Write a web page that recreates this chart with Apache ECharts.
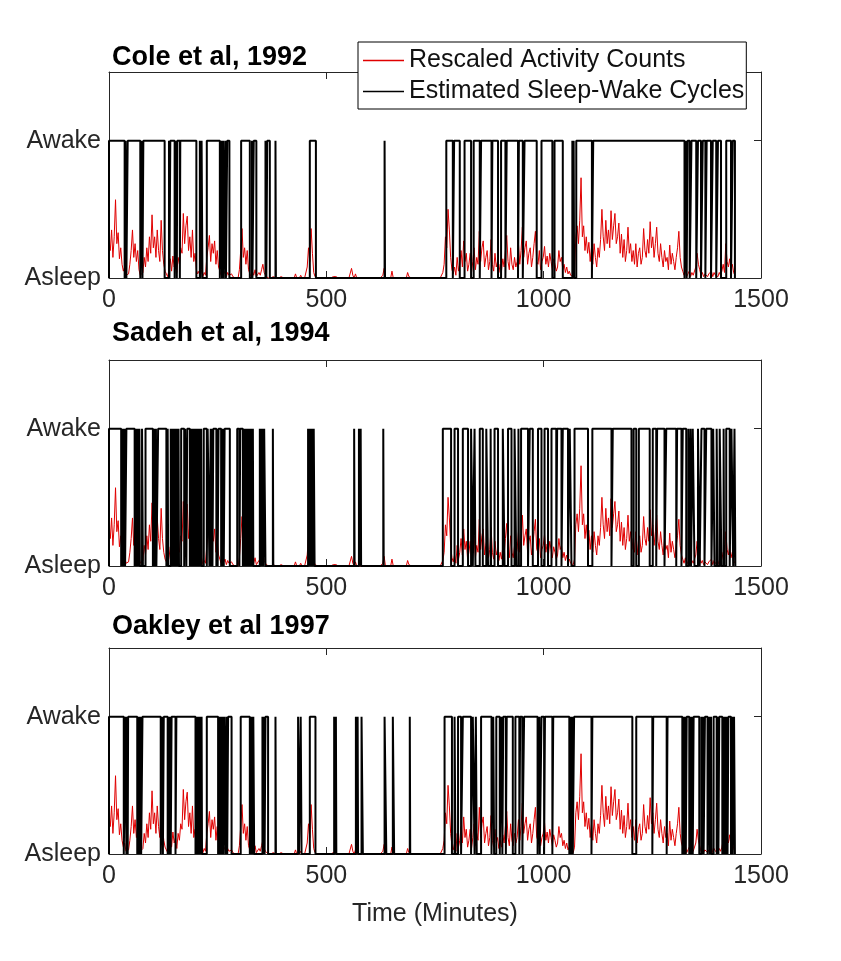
<!DOCTYPE html>
<html>
<head>
<meta charset="utf-8">
<script src="https://cdn.jsdelivr.net/npm/echarts@6/dist/echarts.min.js"></script>
<style>
  html, body { margin: 0; padding: 0; background: #fff; }
  #chart { width: 841px; height: 961px; }
</style>
</head>
<body>
<div id="chart"></div>
<script>
// ---------------- data ----------------
const xTicks = [0, 500, 1000, 1500];
const yTickLabels = ['Asleep', 'Awake'];
const panelTitles = ['Cole et al, 1992', 'Sadeh et al, 1994', 'Oakley et al 1997'];
const seriesNames = ['Rescaled Activity Counts', 'Estimated Sleep-Wake Cycles'];
const xAxisName = 'Time (Minutes)';

// rescaled activity counts, one sample every 3 minutes (same recording in all panels)
const activityMinuteStep = 3;
const activity = [
  0.28,0.20,0.35,0.15,0.30,0.57,0.25,0.33,0.14,0.22,   // 0-27
  0.10,0.05,0.08,0.02,0.01,0.03,0.10,0.20,0.35,0.15,   // 30-57
  0.25,0.12,0.20,0.06,0.02,0.01,0.04,0.15,0.08,0.22,   // 60-87
  0.12,0.30,0.18,0.46,0.22,0.30,0.15,0.35,0.20,0.12,   // 90-117
  0.42,0.20,0.10,0.05,0.03,0.01,0.06,0.14,0.05,0.16,   // 120-147
  0.08,0.12,0.04,0.15,0.10,0.22,0.18,0.47,0.25,0.38,   // 150-177
  0.45,0.20,0.30,0.15,0.35,0.12,0.18,0.06,0.03,0.05,   // 180-207
  0.02,0.06,0.01,0.04,0.02,0.15,0.22,0.31,0.12,0.25,   // 210-237
  0.18,0.27,0.10,0.20,0.08,0.05,0.02,0.06,0.03,0.05,   // 240-267
  0.01,0.04,0.02,0.01,0.03,0.01,0.02,0.00,0.01,0.00,   // 270-297
  0.06,0.20,0.36,0.15,0.22,0.10,0.20,0.06,0.03,0.01,   // 300-327
  0.05,0.02,0.06,0.01,0.02,0.04,0.02,0.06,0.10,0.04,   // 330-357
  0.02,0.01,0.00,0.01,0.00,0.00,0.01,0.00,0.00,0.00,   // 360-387
  0.00,0.00,0.01,0.00,0.00,0.00,0.00,0.00,0.00,0.00,   // 390-417
  0.00,0.00,0.00,0.03,0.00,0.00,0.00,0.02,0.00,0.00,   // 420-447
  0.00,0.01,0.08,0.22,0.12,0.36,0.18,0.04,0.01,0.00,   // 450-477
  0.00,0.00,0.00,0.00,0.00,0.00,0.00,0.00,0.00,0.00,   // 480-507
  0.00,0.00,0.01,0.00,0.01,0.00,0.00,0.00,0.00,0.00,   // 510-537
  0.00,0.00,0.00,0.00,0.00,0.00,0.07,0.02,0.00,0.03,   // 540-567
  0.00,0.00,0.00,0.00,0.00,0.00,0.00,0.00,0.00,0.00,   // 570-597
  0.00,0.00,0.00,0.00,0.00,0.00,0.00,0.00,0.00,0.00,   // 600-627
  0.02,0.07,0.00,0.00,0.00,0.00,0.00,0.05,0.00,0.00,   // 630-657
  0.00,0.00,0.00,0.00,0.00,0.00,0.00,0.00,0.00,0.04,   // 660-687
  0.01,0.00,0.00,0.00,0.00,0.00,0.00,0.00,0.00,0.00,   // 690-717
  0.00,0.00,0.00,0.00,0.00,0.00,0.00,0.00,0.00,0.00,   // 720-747
  0.00,0.00,0.00,0.00,0.00,0.01,0.04,0.10,0.30,0.22,   // 750-777
  0.50,0.35,0.15,0.06,0.03,0.08,0.02,0.15,0.05,0.10,   // 780-807
  0.20,0.08,0.27,0.12,0.18,0.05,0.10,0.18,0.04,0.12,   // 810-837
  0.22,0.06,0.15,0.10,0.34,0.12,0.22,0.27,0.08,0.15,   // 840-867
  0.20,0.06,0.12,0.28,0.10,0.05,0.18,0.08,0.12,0.04,   // 870-897
  0.10,0.05,0.14,0.08,0.20,0.31,0.12,0.06,0.22,0.10,   // 900-927
  0.06,0.15,0.08,0.12,0.25,0.10,0.20,0.37,0.15,0.22,   // 930-957
  0.27,0.10,0.18,0.22,0.08,0.15,0.25,0.34,0.12,0.10,   // 960-987
  0.20,0.06,0.12,0.15,0.23,0.10,0.16,0.08,0.18,0.12,   // 990-1017
  0.06,0.14,0.10,0.05,0.08,0.20,0.12,0.15,0.06,0.10,   // 1020-1047
  0.04,0.08,0.03,0.05,0.02,0.03,0.01,0.05,0.30,0.38,   // 1050-1077
  0.25,0.42,0.73,0.30,0.38,0.20,0.30,0.18,0.26,0.12,   // 1080-1107
  0.22,0.10,0.25,0.15,0.08,0.22,0.15,0.28,0.50,0.30,   // 1110-1137
  0.20,0.42,0.25,0.35,0.22,0.49,0.28,0.38,0.47,0.25,   // 1140-1167
  0.30,0.40,0.18,0.32,0.15,0.28,0.12,0.20,0.37,0.18,   // 1170-1197
  0.25,0.12,0.20,0.10,0.25,0.08,0.18,0.22,0.10,0.15,   // 1200-1227
  0.36,0.20,0.15,0.28,0.18,0.41,0.22,0.30,0.15,0.25,   // 1230-1257
  0.37,0.18,0.12,0.25,0.15,0.08,0.20,0.12,0.15,0.06,   // 1260-1287
  0.24,0.10,0.18,0.12,0.06,0.15,0.22,0.34,0.15,0.08,   // 1290-1317
  0.05,0.02,0.06,0.01,0.03,0.05,0.01,0.04,0.02,0.03,   // 1320-1347
  0.08,0.18,0.10,0.06,0.02,0.04,0.01,0.03,0.02,0.01,   // 1350-1377
  0.03,0.02,0.05,0.01,0.04,0.02,0.03,0.01,0.04,0.02,   // 1380-1407
  0.05,0.10,0.04,0.25,0.12,0.08,0.14,0.06,0.10,0.04,   // 1410-1437
  0.02                                                  // 1440
];

// awake episodes [start minute, end minute] estimated by each algorithm
const coleAwake = [
  [0,36],[38,40],[43,72],[76,77],[79,128],[138,139],[141,151],[154,156],[157,163],[164,201],
  [209,210],[213,215],[225,255],[259,260],[263,264],[268,269],[272,277],[304,324],[329,330],
  [333,339],[360,362],[364,370],[383,384],[462,476],[634,635],
  [776,791],[794,807],[818,833],[839,853],[856,880],[882,895],[902,912],[915,941],[943,952],
  [956,984],[995,1020],[1025,1044],[1066,1067],[1069,1070],[1075,1111],[1114,1324],
  [1328,1329],[1331,1336],[1340,1351],[1355,1362],[1366,1372],[1375,1385],[1389,1397],
  [1401,1408],[1420,1431],[1435,1440]
];
const sadehAwake = [
  [0,28],[30,31],[33,34],[36,37],[40,59],[61,62],[64,65],[67,68],[70,71],[76,78],[84,101],
  [104,105],[108,109],[113,132],[135,136],[142,143],[145,146],[148,149],[151,152],[154,155],
  [157,158],[160,161],[166,173],[175,178],[180,186],[188,189],[191,192],[194,195],[197,198],
  [200,201],[203,204],[206,207],[209,210],[212,213],[218,225],[227,231],[234,235],[237,238],
  [240,247],[249,250],[252,258],[260,261],[263,264],[266,278],[295,300],[302,308],[310,311],
  [313,314],[316,317],[319,320],[322,323],[325,326],[328,329],[331,332],[347,349],[351,352],
  [354,355],[357,360],[377,378],[458,460],[462,463],[465,466],[468,469],[471,473],[564,565],
  [575,576],[579,580],[631,632],
  [768,787],[795,803],[814,826],[833,837],[841,843],[853,860],[868,872],[878,879],[887,895],
  [906,910],[918,926],[933,937],[942,943],[948,964],[968,975],[987,995],[1002,1010],[1018,1029],
  [1031,1041],[1044,1056],[1060,1064],[1071,1102],[1112,1156],[1159,1202],[1207,1213],
  [1219,1244],[1251,1259],[1261,1278],[1282,1305],[1307,1317],[1320,1328],[1333,1335],
  [1338,1339],[1343,1347],[1355,1359],[1363,1370],[1374,1386],[1390,1393],[1398,1400],
  [1405,1409],[1414,1415],[1420,1428],[1432,1436],[1439,1441]
];
const oakleyAwake = [
  [0,34],[38,40],[42,43],[44,65],[67,68],[70,71],[73,74],[77,119],[122,124],[126,135],
  [137,138],[140,142],[144,153],[155,199],[201,202],[204,205],[207,208],[210,211],[213,214],
  [225,251],[253,254],[256,257],[259,260],[262,263],[266,268],[271,272],[274,282],[303,324],
  [326,327],[329,330],[332,334],[353,355],[357,358],[360,366],[383,384],[435,437],[441,443],
  [462,475],[518,519],[522,523],[568,569],[572,573],[581,584],[634,638],[653,656],[692,693],
  [772,789],[795,797],[803,810],[814,833],[837,841],[844,846],[856,880],[884,886],[891,899],
  [903,905],[907,913],[915,929],[935,944],[946,951],[955,986],[990,991],[995,1001],[1003,1020],
  [1022,1059],[1062,1063],[1066,1067],[1070,1110],[1112,1204],[1213,1250],[1252,1283],
  [1285,1319],[1322,1323],[1326,1327],[1329,1335],[1338,1339],[1342,1343],[1345,1358],
  [1363,1364],[1367,1368],[1371,1377],[1381,1382],[1385,1386],[1391,1398],[1401,1402],
  [1404,1411],[1414,1415],[1418,1419],[1422,1423],[1425,1431],[1434,1435],[1438,1440]
];
const awakeByPanel = [coleAwake, sadehAwake, oakleyAwake];

// ---------------- layout / style ----------------
const FONT = '"Liberation Sans", Arial, Helvetica, sans-serif';
const AX = '#262626';
const panels = [
  { top: 72, height: 206, titleTop: 44 },
  { top: 360, height: 206, titleTop: 320 },
  { top: 648, height: 206, titleTop: 613 }
];
const gridLeft = 109, gridWidth = 652;

const activityPoints = activity.map((v, i) => [i * activityMinuteStep, v]);
function toSteps(intervals) {
  const pts = [[0, 0]];
  intervals.forEach(([a, b]) => { pts.push([a, 0], [a, 1], [b, 1], [b, 0]); });
  return pts;
}

const grid = [], xAxis = [], yAxis = [], series = [], title = [];
panels.forEach((p, i) => {
  grid.push({ left: gridLeft, top: p.top, width: gridWidth, height: p.height, show: false });
  title.push({
    text: panelTitles[i], left: 112, top: p.titleTop, padding: 0,
    textStyle: { fontFamily: FONT, fontSize: 27, fontWeight: 'bold', color: '#000' }
  });
  const xBase = {
    type: 'value', gridIndex: i, min: xTicks[0], max: xTicks[xTicks.length - 1],
    interval: xTicks[1] - xTicks[0],
    axisLine: { show: true, onZero: false, lineStyle: { color: AX, width: 1 } },
    axisTick: { show: true, inside: true, length: 7, lineStyle: { color: AX } },
    splitLine: { show: false }
  };
  xAxis.push(Object.assign({}, xBase, {
    position: 'bottom',
    axisLabel: { show: true, fontFamily: FONT, fontSize: 25, color: AX, margin: 10,
                 formatter: v => String(v) },
    name: i === 2 ? xAxisName : '', nameLocation: 'middle', nameGap: 48,
    nameTextStyle: { fontFamily: FONT, fontSize: 25, color: AX }
  }));
  xAxis.push(Object.assign({}, xBase, { position: 'top', axisLabel: { show: false } }));
  const yBase = {
    type: 'value', gridIndex: i, min: 0, max: 1.5, interval: 1,
    axisLine: { show: true, onZero: false, lineStyle: { color: AX, width: 1 } },
    axisTick: { show: true, inside: true, length: 7, lineStyle: { color: AX } },
    splitLine: { show: false }
  };
  yAxis.push(Object.assign({}, yBase, {
    position: 'left',
    axisLabel: {
      show: true, fontFamily: FONT, fontSize: 25, color: AX, margin: 8,
      formatter: v => (v === 0 ? yTickLabels[0] : v === 1 ? yTickLabels[1] : '')
    }
  }));
  yAxis.push(Object.assign({}, yBase, { position: 'right', axisLabel: { show: false } }));

  series.push({
    name: seriesNames[0], type: 'line', xAxisIndex: 2 * i, yAxisIndex: 2 * i,
    data: activityPoints, showSymbol: false, symbol: 'none',
    lineStyle: { color: '#e00000', width: 1 }, itemStyle: { color: '#e00000' },
    animation: false, silent: true
  });
  series.push({
    name: seriesNames[1], type: 'line', xAxisIndex: 2 * i, yAxisIndex: 2 * i,
    data: toSteps(awakeByPanel[i]), showSymbol: false, symbol: 'none',
    lineStyle: { color: '#000', width: 2 }, itemStyle: { color: '#000' },
    animation: false, silent: true
  });
});

const option = {
  backgroundColor: '#fff',
  animation: false,
  title,
  legend: {
    data: seriesNames, orient: 'vertical', left: 358, top: 42,
    padding: [6, 2, 5, 5], itemGap: 6, itemWidth: 41, itemHeight: 1.5, icon: 'rect',
    backgroundColor: '#fff', borderColor: '#000', borderWidth: 1, borderRadius: 0,
    textStyle: { fontFamily: FONT, fontSize: 25, color: '#111' },
    selectedMode: false
  },
  grid, xAxis, yAxis, series
};

const chart = echarts.init(document.getElementById('chart'), null, { renderer: 'canvas' });
chart.setOption(option);
</script>
</body>
</html>
